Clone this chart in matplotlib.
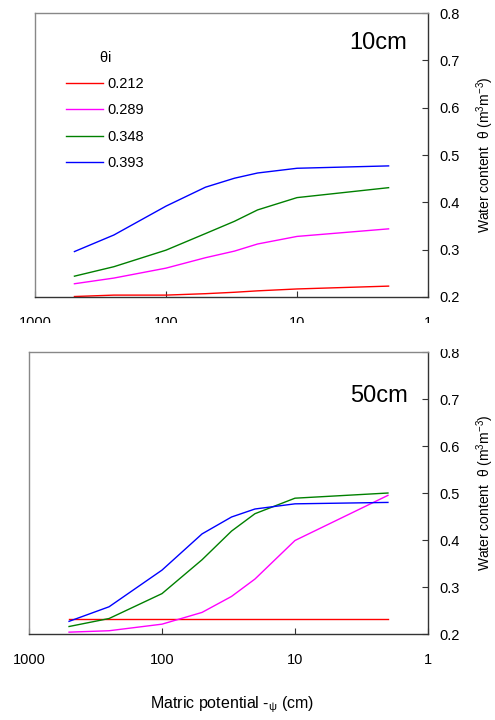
import matplotlib
matplotlib.use("Agg")
import matplotlib.pyplot as plt
from matplotlib.patches import Rectangle

plt.rcParams["font.family"] = ["Liberation Sans", "DejaVu Sans"]
plt.rcParams["mathtext.fontset"] = "custom"
plt.rcParams["mathtext.rm"] = "Liberation Sans"
plt.rcParams["mathtext.it"] = "Liberation Sans"

# matric potential -psi (cm)
psi = [500, 250, 100, 50, 30, 20, 10, 2]
theta_i = ["0.212", "0.289", "0.348", "0.393"]
colors = ["#ff0000", "#ff00ff", "#008000", "#0000ff"]

# 10 cm depth
top_212 = [0.201, 0.204, 0.204, 0.207, 0.210, 0.213, 0.217, 0.223]
top_289 = [0.228, 0.240, 0.261, 0.283, 0.297, 0.312, 0.328, 0.344]
top_348 = [0.244, 0.264, 0.299, 0.334, 0.360, 0.384, 0.410, 0.431]
top_393 = [0.296, 0.331, 0.392, 0.432, 0.451, 0.462, 0.472, 0.477]

# 50 cm depth
bot_212 = [0.233, 0.233, 0.233, 0.233, 0.233, 0.233, 0.233, 0.233]
bot_289 = [0.204, 0.207, 0.221, 0.246, 0.280, 0.317, 0.399, 0.495]
bot_348 = [0.216, 0.233, 0.286, 0.358, 0.419, 0.456, 0.489, 0.500]
bot_393 = [0.227, 0.258, 0.336, 0.413, 0.449, 0.466, 0.477, 0.480]

x_ticks = [1000, 100, 10, 1]
y_ticks = [0.2, 0.3, 0.4, 0.5, 0.6, 0.7, 0.8]

fig = plt.figure(figsize=(4.95, 7.2), dpi=100)
ax_top = fig.add_axes([0.0707, 0.5875, 0.794, 0.3944])
ax_bot = fig.add_axes([0.0586, 0.1194, 0.806, 0.3917])


def style_axes(ax):
    ax.set_xscale("log")
    ax.set_xlim(1000, 1)
    ax.set_ylim(0.2, 0.8)
    ax.set_xticks(x_ticks)
    ax.set_xticklabels([str(v) for v in x_ticks])
    ax.minorticks_off()
    ax.set_yticks(y_ticks)
    ax.set_yticklabels([f"{v:.1f}" for v in y_ticks])
    ax.yaxis.tick_right()
    ax.yaxis.set_label_position("right")
    ax.tick_params(axis="both", direction="in", length=4, width=0.8,
                   labelsize=10.5, color="#333333")
    ax.tick_params(axis="x", pad=14)
    ax.tick_params(axis="y", pad=8)
    ax.spines["top"].set_color("#888888")
    ax.spines["left"].set_color("#888888")
    ax.spines["right"].set_color("#333333")
    ax.spines["bottom"].set_color("#333333")
    for s in ax.spines.values():
        s.set_linewidth(1.0)
    ax.set_ylabel(r"Water content  $\theta$ (m$^3$m$^{-3}$)", fontsize=10, labelpad=11)


top_series = [top_212, top_289, top_348, top_393]
bot_series = [bot_212, bot_289, bot_348, bot_393]

for vals, c, lab in zip(top_series, colors, theta_i):
    ax_top.plot(psi, vals, color=c, lw=1.0, label=lab)
for vals, c, lab in zip(bot_series, colors, theta_i):
    ax_bot.plot(psi, vals, color=c, lw=1.0, label=lab)

style_axes(ax_top)
style_axes(ax_bot)

leg = ax_top.legend(loc="upper left", bbox_to_anchor=(0.08, 0.871), frameon=False,
                    title=r"$\theta$i", fontsize=10.5, title_fontsize=10.5,
                    handlelength=2.5, handletextpad=0.3, labelspacing=0.85,
                    borderpad=0, borderaxespad=0)

ax_top.text(0.947, 0.893, "10cm", transform=ax_top.transAxes, fontsize=17,
            ha="right", va="center")
ax_bot.text(0.95, 0.844, "50cm", transform=ax_bot.transAxes, fontsize=17,
            ha="right", va="center")

fig.text(0.468, 0.021, r"Matric potential -$_{\psi}$ (cm)", fontsize=11.5,
         ha="center", va="center")

# top panel tick labels are cut off in the original
fig.patches.append(Rectangle((0, 0.515), 1, 0.036, transform=fig.transFigure,
                             facecolor="white", edgecolor="none", zorder=5))

fig.savefig("out.png", dpi=100)
